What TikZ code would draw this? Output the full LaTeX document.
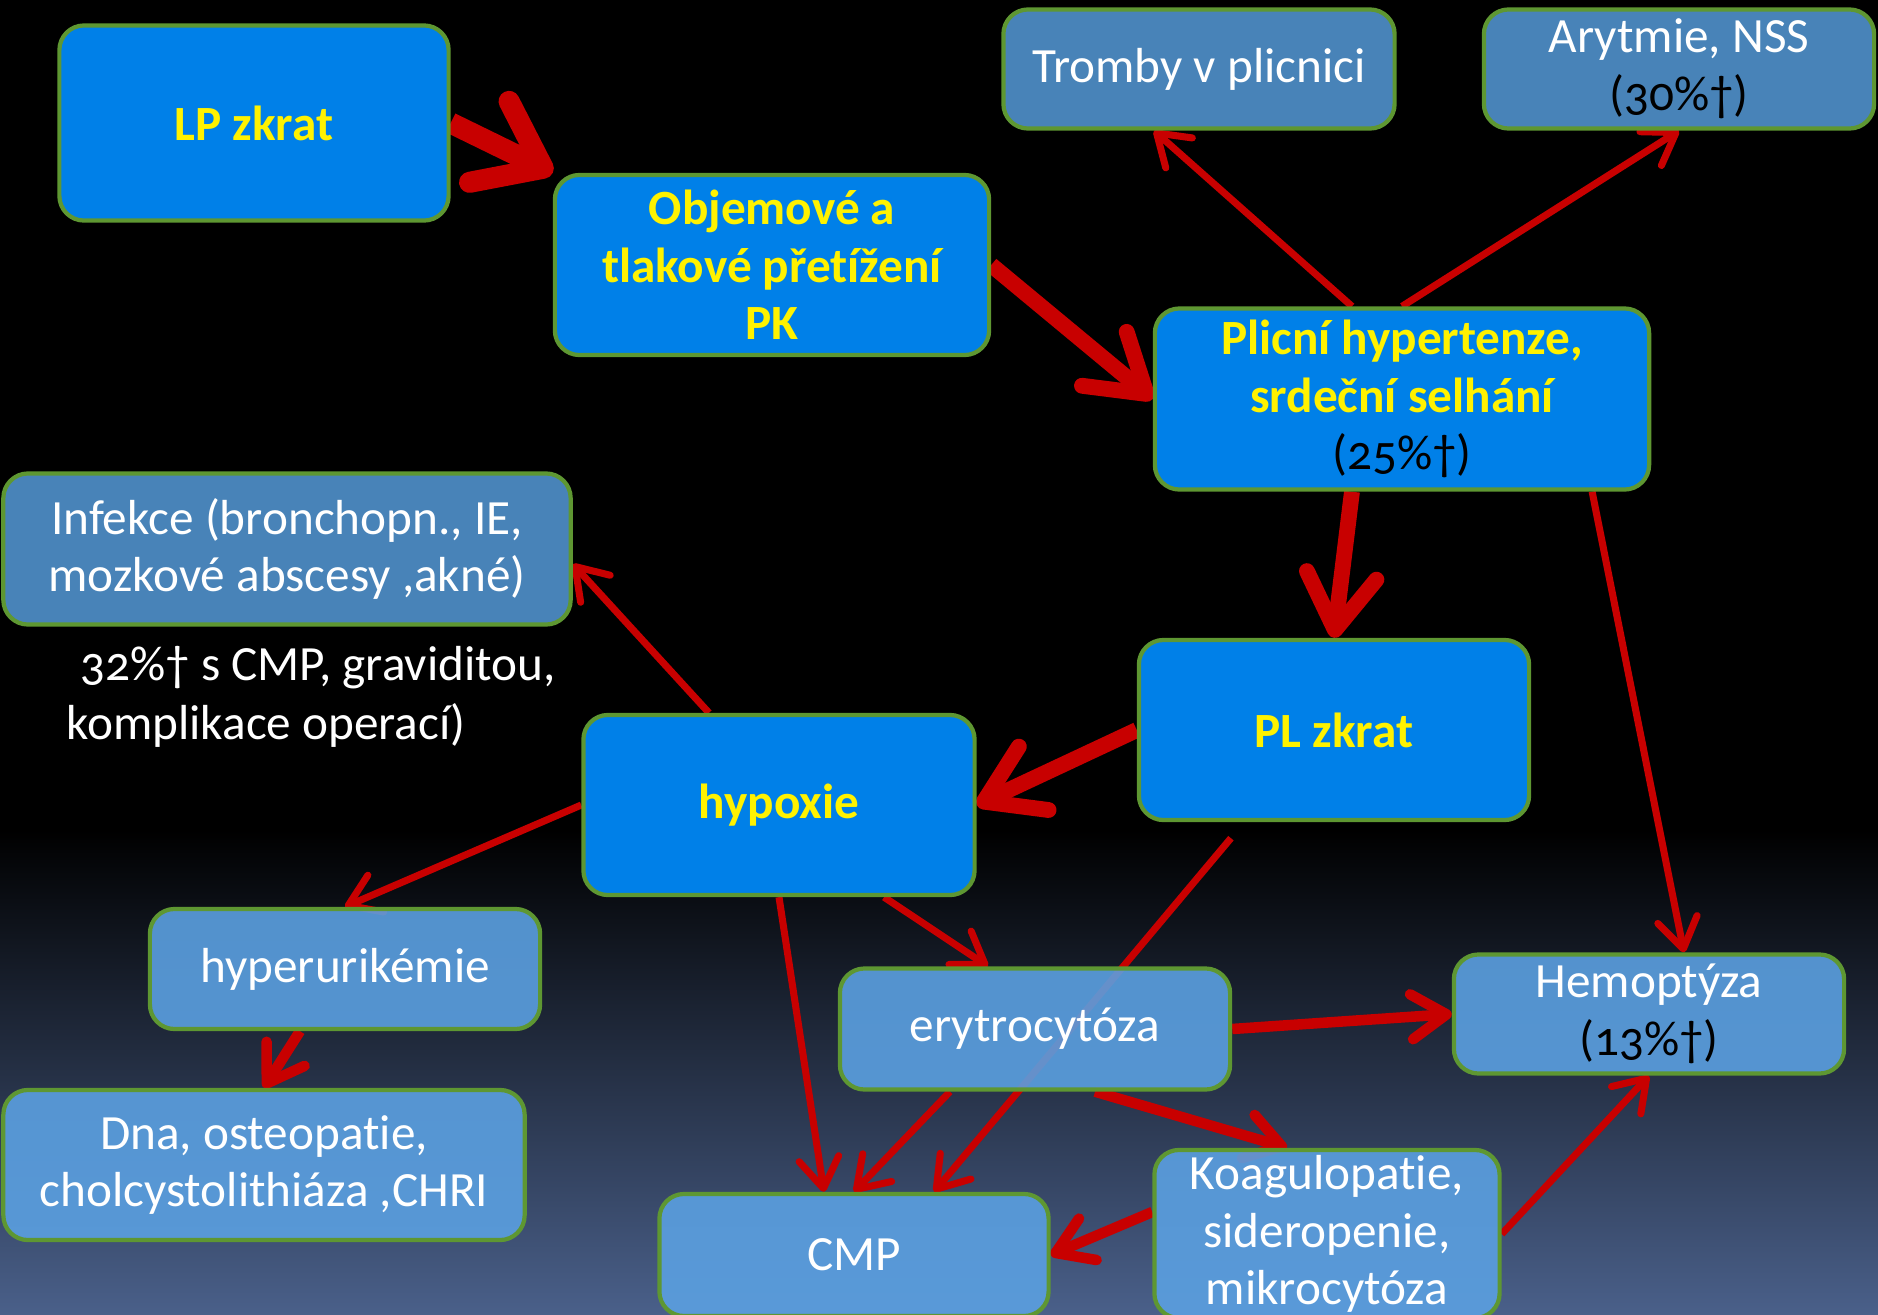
\documentclass[tikz,border=0pt]{standalone}
\usepackage{fontspec}
\setmainfont{Carlito}[Ligatures=NoCommon,Numbers=OldStyle]
\usepackage{tikz}
\usetikzlibrary{arrows.meta}
\definecolor{boxblue}{RGB}{0,128,232}
\definecolor{lightblue}{RGB}{80,146,205}
\definecolor{lowblue}{RGB}{91,160,225}
\definecolor{boxgreen}{RGB}{94,151,50}
\definecolor{arrred}{RGB}{200,0,0}
\definecolor{slate}{RGB}{74,96,138}
\pgfdeclarelayer{background}
\pgfdeclarelayer{arrows}
\pgfsetlayers{background,arrows,main}

\tikzset{
  darkbox/.style={draw=boxgreen,line width=1.2pt,rounded corners=7pt,fill=boxblue,
    text=yellow,font=\fontsize{14}{16.4}\selectfont\bfseries,align=center,inner sep=0pt},
  lightbox/.style={draw=boxgreen,line width=1.2pt,rounded corners=7pt,fill=#1,fill opacity=0.9,
    text opacity=1,text=white,font=\fontsize{14}{16.4}\selectfont,align=center,inner sep=0pt},
  lightbox/.default=lightblue,
  arrowhuge/.style={draw=arrred,line width=6pt,-{Straight Barb[round,length=6mm,width=9mm]}},
  arrowthick/.style={draw=arrred,line width=4.5pt,-{Straight Barb[round,length=5.5mm,width=7mm]}},
  arrowmed/.style={draw=arrred,line width=3pt,-{Straight Barb[round,length=3.5mm,width=4.5mm]}},
  arrowthin/.style={draw=arrred,line width=2pt,-{Straight Barb[round,length=3mm,width=4mm]}},
}

\begin{document}
\begin{tikzpicture}[x=0.01cm,y=-0.01cm]
\useasboundingbox (0,0) rectangle (1878,1315);
\begin{pgfonlayer}{background}
 \fill[black] (0,0) rectangle (1878,1315);
 \shade[top color=black,bottom color=slate] (0,830) rectangle (1878,1315);
\end{pgfonlayer}

 % nodes
 \node[darkbox,minimum width=3.89cm,minimum height=1.95cm] (lp) at (254,123) {LP zkrat};
 \node[darkbox,minimum width=4.34cm,minimum height=1.80cm] (objem) at (772,265) {Objemové a\\tlakové přetížení\\PK};
 \node[lightbox,minimum width=3.91cm,minimum height=1.19cm] (tromby) at (1199,69) {Tromby v plicnici};
 \node[lightbox,minimum width=3.90cm,minimum height=1.19cm] (arytmie) at (1679,69) {Arytmie, NSS\\{\color{black}(30\%†)}};
 \node[darkbox,minimum width=4.94cm,minimum height=1.81cm] (plicni) at (1402,399) {Plicní hypertenze,\\srdeční selhání\\{\mdseries\color{black}(25\%†)}};
 \node[lightbox,minimum width=5.67cm,minimum height=1.51cm] (infekce) at (287,549) {Infekce (bronchopn., IE,\\mozkové abscesy ,akné)};
 \node[anchor=west,align=left,text=white,font=\fontsize{14}{16.8}\selectfont] (pozn) at (54,697) {\hspace*{4pt}32\%† s CMP, graviditou,\\komplikace operací)};
 \node[darkbox,minimum width=3.90cm,minimum height=1.80cm] (plzkrat) at (1334,730) {PL zkrat};
 \node[darkbox,minimum width=3.91cm,minimum height=1.80cm] (hypoxie) at (779,805) {hypoxie};
 \node[lightbox=lowblue,minimum width=3.90cm,minimum height=1.20cm] (hyperur) at (345,969) {hyperurikémie};
 \node[lightbox=lowblue,minimum width=5.21cm,minimum height=1.50cm] (dna) at (264,1165) {Dna, osteopatie,\\cholcystolithiáza ,CHRI};
 \node[lightbox=lowblue,minimum width=3.90cm,minimum height=1.21cm] (ery) at (1035,1029) {erytrocytóza};
 \node[lightbox=lowblue,minimum width=3.90cm,minimum height=1.19cm] (hemo) at (1649,1014) {Hemoptýza\\{\color{black}(13\%†)}};
 \node[lightbox=lowblue,minimum width=3.45cm,minimum height=1.68cm] (koag) at (1327,1234) {Koagulopatie,\\sideropenie,\\mikrocytóza};
 \node[lightbox=lowblue,minimum width=3.89cm,minimum height=1.22cm] (cmp) at (854,1255) {CMP};

\begin{pgfonlayer}{arrows}
 \draw[arrowhuge] (lp.east) -- (objem.north west);
 \draw[arrowthick] (objem.east) -- (plicni.west);
 \draw[arrowthin] ([xshift=-5mm]plicni.north) -- ([xshift=-4.5mm]tromby.south);
 \draw[arrowthin] (plicni.north) -- (arytmie.south);
 \draw[arrowthick] ([xshift=-5mm]plicni.south) -- (plzkrat.north);
 \draw[arrowthin] ([xshift=19mm]plicni.south) -- ([xshift=3.5mm]hemo.north);
 \draw[arrowthick] (plzkrat.west) -- (hypoxie.east);
 \draw[arrowthin] ([xshift=-7mm]hypoxie.north) -- ([yshift=-1.5mm]infekce.east);
 \draw[arrowthin] (hypoxie.west) -- (hyperur.north);
 \draw[arrowmed] ([xshift=-4.5mm]hyperur.south) -- (dna.north);
 \draw[arrowthin] (hypoxie.south) -- ([xshift=-3mm]cmp.north);
 \draw[arrowthin] ([xshift=10.5mm]hypoxie.south) -- ([xshift=-4.7mm]ery.north);
 \draw[arrowthin] ([xshift=-10.3mm,yshift=-1.6mm]plzkrat.south) -- ([xshift=8mm]cmp.north);
 \draw[arrowthin] ([xshift=-8.5mm]ery.south) -- (cmp.north);
 \draw[arrowmed] (ery.east) -- (hemo.west);
 \draw[arrowmed] ([xshift=6mm]ery.south) -- ([xshift=-4mm]koag.north);
 \draw[arrowmed] ([yshift=2.2mm]koag.west) -- (cmp.east);
 \draw[arrowthin] (koag.east) -- (hemo.south);
\end{pgfonlayer}
\end{tikzpicture}
\end{document}
